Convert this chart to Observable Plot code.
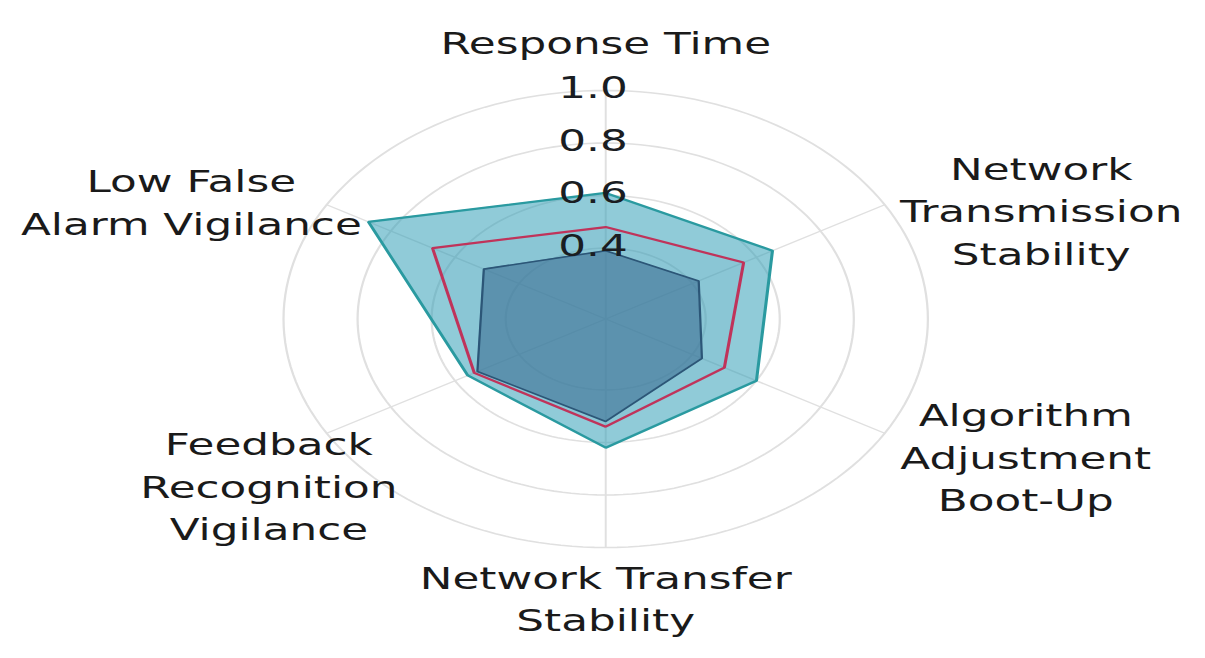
<!DOCTYPE html>
<html><head><meta charset="utf-8">
<script src="https://cdn.jsdelivr.net/npm/d3@7"></script>
<script src="https://cdn.jsdelivr.net/npm/@observablehq/plot@0.6"></script>
<style>
html,body{margin:0;padding:0;background:#fff;}
#chart{width:1205px;height:658px;overflow:hidden;}
</style></head><body><div id="chart"></div>
<script>
// ---- data ----
const categories = [
  "Response Time",
  "Network\nTransmission\nStability",
  "Algorithm\nAdjustment\nBoot-Up",
  "Network Transfer\nStability",
  "Feedback\nRecognition\nVigilance",
  "Low False\nAlarm Vigilance"
];
const outerValues = [0.61, 0.65, 0.60, 0.62, 0.56, 0.87];
const redValues   = [0.48, 0.56, 0.50, 0.54, 0.54, 0.67];
const innerValues = [0.39, 0.42, 0.43, 0.52, 0.53, 0.51];
const tickValues = [0.4, 0.6, 0.8, 1.0];
const tickLabels = ["0.4", "0.6", "0.8", "1.0"];

// ---- layout ----
const W = 1205, H = 658, STRETCH = 1.41;
const PW = W / STRETCH;
const CX = 605 / STRETCH, CY = 318.5, R = 228.5;
const R0 = 0.13;
const labelOffsets = [[0, -50], [111, 4], [100, 22], [0, 49], [-41, 51], [-96, -5]];

const rNorm = d3.scaleLinear().domain([R0, 1]).range([0, 1]);
const n = categories.length;
const ang = i => 2 * Math.PI * i / n;
const seriesPts = vals => vals.map((v, i) => ({i, v}));
const sx = d => rNorm(d.v) * Math.sin(ang(d.i));
const sy = d => rNorm(d.v) * Math.cos(ang(d.i));

const ringPts = tickValues.flatMap(t => d3.range(0, 360, 2).map(a => ({t, a: a * Math.PI / 180})));
const spokes = categories.map((c, i) => ({i}));
const labelData = categories.map((c, i) => ({i, c}));

const polygon = (vals, fill, fillOpacity, stroke, strokeWidth) => [
  Plot.area(seriesPts(vals), {x1: sx, y1: sy, x2: 0, y2: 0, curve: "linear-closed", fill, fillOpacity}),
  Plot.line(seriesPts(vals), {x: sx, y: sy, curve: "linear-closed", stroke, strokeWidth, strokeLinejoin: "miter"})
];

const svg = Plot.plot({
  width: PW, height: H,
  marginTop: 0, marginRight: 0, marginBottom: 0, marginLeft: 0,
  x: {domain: [-1, 1], range: [CX - R, CX + R], axis: null},
  y: {domain: [-1, 1], range: [CY + R, CY - R], axis: null},
  style: {background: "white", fontFamily: "DejaVu Sans, sans-serif"},
  marks: [
    Plot.line(ringPts, {x: d => rNorm(d.t) * Math.sin(d.a), y: d => rNorm(d.t) * Math.cos(d.a), z: "t", curve: "linear-closed", stroke: "#e0e0e0", strokeWidth: 1.6}),
    Plot.link(spokes, {x1: 0, y1: 0, x2: d => Math.sin(ang(d.i)), y2: d => Math.cos(ang(d.i)), stroke: "#e0e0e0", strokeWidth: 1.4}),
    ...polygon(outerValues, "#35a0b8", 0.55, "#2a9aa0", 2.2),
    ...polygon(redValues, "#4f86ad", 0.08, "#c0335a", 2.2),
    ...polygon(innerValues, "#3d6f95", 0.6, "#2c5677", 1.6),
    Plot.text(tickValues, {x: 0, y: t => rNorm(t), text: (t, k) => tickLabels[k], dx: -9, dy: -2, fontSize: 31, fill: "#1a1d22", textAnchor: "middle", lineAnchor: "middle"}),
    Plot.text(labelData, {
      x: d => Math.sin(ang(d.i)) + labelOffsets[d.i][0] / R,
      y: d => Math.cos(ang(d.i)) - labelOffsets[d.i][1] / R,
      text: "c", fontSize: 31, lineHeight: 1.37, fill: "#1a1a1a", textAnchor: "middle", lineAnchor: "middle"
    })
  ]
});
svg.setAttribute("width", W);
svg.setAttribute("height", H);
svg.setAttribute("preserveAspectRatio", "none");
svg.style.width = W + "px";
svg.style.height = H + "px";
svg.style.maxWidth = "none";
document.getElementById("chart").appendChild(svg);
</script>
</body></html>
